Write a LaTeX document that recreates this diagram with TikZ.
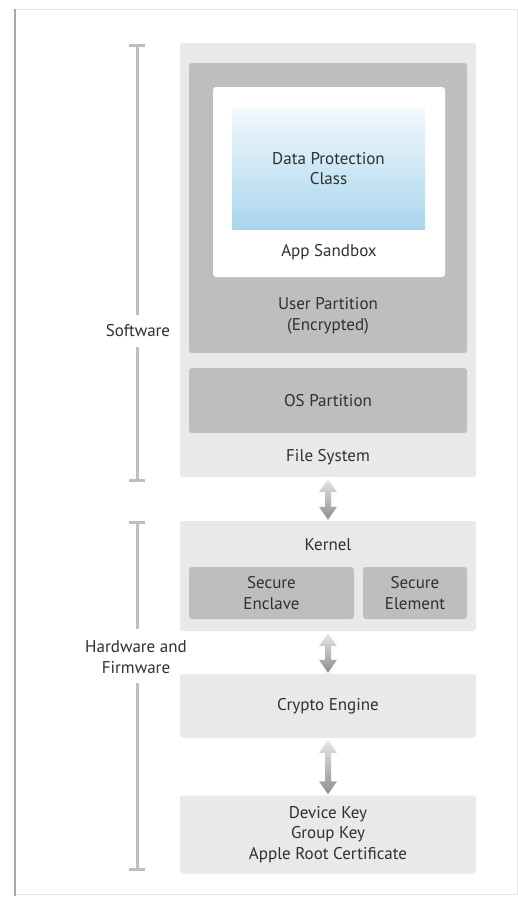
\documentclass[tikz,border=0pt]{standalone}
\usepackage{fontspec}
\setmainfont{PT Sans}
\usetikzlibrary{calc,arrows.meta}
\definecolor{lightbox}{HTML}{E9E9EA}
\definecolor{darkbox}{HTML}{BDBEC0}
\definecolor{txt}{HTML}{303030}
\definecolor{brk}{HTML}{BEBEBE}
\definecolor{frameline}{HTML}{A8A8A8}
\definecolor{dpctop}{HTML}{F1F9FD}
\definecolor{dpcbot}{HTML}{A9D6EC}
\definecolor{arrtop}{HTML}{E6E6E6}
\definecolor{arrbot}{HTML}{8E8E8E}
\tikzset{
  boxbase/.style={rounded corners=3pt, inner sep=0pt, draw=none},
  lightpanel/.style={boxbase, fill=lightbox},
  darkpanel/.style={boxbase, fill=darkbox},
  whitepanel/.style={boxbase, fill=white},
  lbl/.style={text=txt, font=\fontsize{17}{20.5}\selectfont, align=center, inner sep=0pt},
  bracketline/.style={draw=brk, line width=3pt},
  captop/.style={bracketline, {Bar[width=16pt,line width=3pt]}-},
  capbot/.style={bracketline, -{Bar[width=16pt,line width=3pt]}}
}
\newcommand{\twoway}[2]{%
  \shade[top color=arrtop, bottom color=arrbot]
    let \p1=($(#1.south)+(0,-2)$), \p2=($(#2.north)+(0,1)$) in
    (\x1,\y1) -- (\x1+9,\y1-13) -- (\x1+3,\y1-13) -- (\x1+3,\y2+13) -- (\x1+9,\y2+13)
    -- (\x1,\y2) -- (\x1-9,\y2+13) -- (\x1-3,\y2+13) -- (\x1-3,\y1-13) -- (\x1-9,\y1-13) -- cycle;}
\begin{document}
\begin{tikzpicture}[x=1pt,y=1pt]
\useasboundingbox (0,0) rectangle (518,-897);
\fill[white] (0,0) rectangle (518,-897);
% frame
\draw[draw=black!10, line width=0.8pt] (15,-9) -- (517,-9) -- (517,-894) -- (15,-894);
\draw[draw=frameline, line width=2pt] (15,-9) -- (15,-896);

% software stack
\node[lightpanel, minimum width=296pt, minimum height=434pt] (fs) at (328,-260) {};
\node[darkpanel, minimum width=278pt, minimum height=290pt] (up) at (328,-208) {};
\node[whitepanel, minimum width=232pt, minimum height=190pt] (sb) at (329,-182) {};
\shade[top color=dpctop, bottom color=dpcbot] (232,-108) rectangle (425,-229);
\node[boxbase, minimum width=193pt, minimum height=121pt] (dpc) at (328.5,-168.5) {};
\node[lbl] (dpct) at (dpc.center) {Data Protection\\Class};
\node[lbl] (sbt) at (329,-252) {App Sandbox};
\node[lbl] (upt) at (328,-316) {User Partition\\(Encrypted)};
\node[darkpanel, minimum width=278pt, minimum height=65pt] (os) at (328,-400.5) {};
\node[lbl] (ost) at (os.center) {OS Partition};
\node[lbl] (fst) at (328,-457) {File System};

% kernel
\node[lightpanel, minimum width=296pt, minimum height=110pt] (kern) at (328,-576) {};
\node[lbl] (kernt) at (328,-545) {Kernel};
\node[darkpanel, minimum width=165pt, minimum height=52pt] (sen) at (271.5,-593) {};
\node[lbl] at (sen.center) {Secure\\Enclave};
\node[darkpanel, minimum width=104pt, minimum height=52pt] (sel) at (415,-593) {};
\node[lbl] at (sel.center) {Secure\\Element};

% crypto
\node[lightpanel, minimum width=296pt, minimum height=64pt] (cry) at (328,-706) {};
\node[lbl] at (cry.center) {Crypto Engine};

% keys
\node[lightpanel, minimum width=296pt, minimum height=78pt] (keys) at (328,-834.5) {};
\node[lbl] at (keys.center) {Device Key\\Group Key\\Apple Root Certificate};

% arrows
\twoway{fs}{kern}
\twoway{kern}{cry}
\twoway{cry}{keys}

% brackets
\coordinate (swtop) at (137,-44);
\coordinate (swgap1) at (137,-315);
\coordinate (swgap2) at (137,-347);
\coordinate (swbot) at (137,-482);
\draw[captop] (swtop) -- (swgap1);
\draw[capbot] (swgap2) -- (swbot);
\node[lbl] (swlbl) at (138,-331) {Software};
\coordinate (hwtop) at (137,-521);
\coordinate (hwgap1) at (137,-629);
\coordinate (hwgap2) at (137,-683);
\coordinate (hwbot) at (137,-871);
\draw[captop] (hwtop) -- (hwgap1);
\draw[capbot] (hwgap2) -- (hwbot);
\node[lbl] (hwlbl) at (136,-657) {Hardware and\\Firmware};
\end{tikzpicture}
\end{document}
